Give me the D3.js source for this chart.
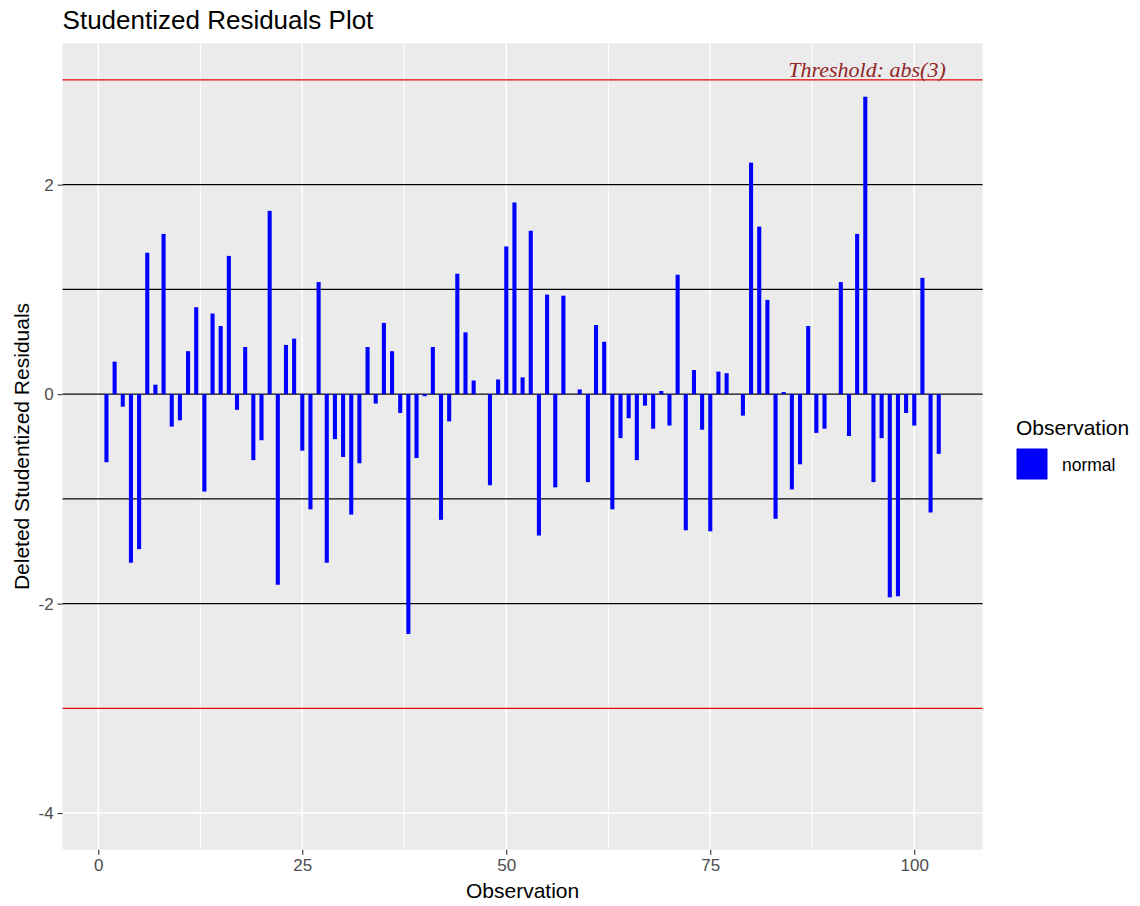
<!doctype html>
<html lang="en">
    <head>
        <meta charset="utf-8">
        <title>Studentized Residuals Plot</title>
        <script src="https://cdn.jsdelivr.net/npm/d3@7"></script>
        <style>
            body { margin: 0; background: #fff; }
            text { font-family: "Liberation Sans", Arial, sans-serif; }
        </style>
    </head>
    <body>
        <script>
            // deleted studentized residuals, observation 1..103
            var residuals = [
                -0.65, 0.31, -0.12, -1.61, -1.48, 1.35, 0.09, 1.53, -0.31, -0.25,
                0.41, 0.83, -0.93, 0.77, 0.65, 1.32, -0.15, 0.45, -0.63, -0.44,
                1.75, -1.82, 0.47, 0.53, -0.54, -1.10, 1.07, -1.61, -0.43, -0.60,
                -1.15, -0.66, 0.45, -0.09, 0.68, 0.41, -0.18, -2.29, -0.61, -0.02,
                0.45, -1.20, -0.26, 1.15, 0.59, 0.13, 0.00, -0.87, 0.14, 1.41,
                1.83, 0.16, 1.56, -1.35, 0.95, -0.89, 0.94, 0.00, 0.045, -0.84,
                0.66, 0.50, -1.10, -0.42, -0.23, -0.63, -0.11, -0.33, 0.03, -0.30,
                1.14, -1.30, 0.23, -0.34, -1.31, 0.215, 0.20, 0.00, -0.205, 2.21,
                1.60, 0.90, -1.19, 0.02, -0.91, -0.67, 0.65, -0.37, -0.33, 0.00,
                1.07, -0.40, 1.53, 2.84, -0.84, -0.42, -1.94, -1.93, -0.18, -0.30,
                1.11, -1.13, -0.57
            ];
            var data = residuals.map((v, i) => ({obs: i + 1, value: v}));

            var xTicks = [0, 25, 50, 75, 100];
            var xMinor = [12.5, 37.5, 62.5, 87.5];
            var yTicks = [-4, -2, 0, 2];
            var yMinor = [-3, -1, 1, 3];
            var refLines = [-2, -1, 0, 1, 2];
            var threshold = [-3, 3];

            var W = 1140, H = 906;
            var panel = {left: 62.6, right: 982.6, top: 43.3, bottom: 849.7};

            var x = d3.scaleLinear()
                      .domain([-4.375, 108.375])
                      .range([panel.left, panel.right]);
            var y = d3.scaleLinear()
                      .domain([-4.35, 3.35])
                      .range([panel.bottom, panel.top]);

            var svg = d3.select("body")
                        .append("svg")
                        .attr("width", W)
                        .attr("height", H);

            svg.append("rect")
               .attr("x", panel.left)
               .attr("y", panel.top)
               .attr("width", panel.right - panel.left)
               .attr("height", panel.bottom - panel.top)
               .attr("fill", "#ebebeb");

            // grid
            var grid = svg.append("g").attr("stroke", "#fff");
            grid.selectAll("line.xminor")
                .data(xMinor).enter().append("line")
                .attr("x1", d => x(d)).attr("x2", d => x(d))
                .attr("y1", panel.top).attr("y2", panel.bottom)
                .attr("stroke-width", 1);
            grid.selectAll("line.xmajor")
                .data(xTicks).enter().append("line")
                .attr("x1", d => x(d)).attr("x2", d => x(d))
                .attr("y1", panel.top).attr("y2", panel.bottom)
                .attr("stroke-width", 1.6);
            grid.selectAll("line.yminor")
                .data(yMinor).enter().append("line")
                .attr("y1", d => y(d)).attr("y2", d => y(d))
                .attr("x1", panel.left).attr("x2", panel.right)
                .attr("stroke-width", 1);
            grid.selectAll("line.ymajor")
                .data(yTicks).enter().append("line")
                .attr("y1", d => y(d)).attr("y2", d => y(d))
                .attr("x1", panel.left).attr("x2", panel.right)
                .attr("stroke-width", 1.6);

            // reference lines
            svg.selectAll("line.ref")
               .data(refLines).enter().append("line")
               .attr("y1", d => y(d)).attr("y2", d => y(d))
               .attr("x1", panel.left).attr("x2", panel.right)
               .attr("stroke", "#000")
               .attr("stroke-width", 1.2);
            svg.selectAll("line.thr")
               .data(threshold).enter().append("line")
               .attr("y1", d => y(d)).attr("y2", d => y(d))
               .attr("x1", panel.left).attr("x2", panel.right)
               .attr("stroke", "#e00000")
               .attr("stroke-width", 1.2);

            // bars
            var bw = x(0.5) - x(0);
            svg.append("g")
               .selectAll("rect")
               .data(data).enter().append("rect")
               .attr("x", d => x(d.obs) - bw / 2)
               .attr("y", d => y(Math.max(0, d.value)))
               .attr("width", bw)
               .attr("height", d => Math.abs(y(d.value) - y(0)))
               .attr("fill", "#0000ff");

            svg.append("text")
               .attr("x", 867)
               .attr("y", y(3) - 3)
               .attr("text-anchor", "middle")
               .style("font-family", "'Liberation Serif', 'Times New Roman', serif")
               .style("font-style", "italic")
               .style("font-size", "22px")
               .attr("fill", "#922626")
               .text("Threshold: abs(3)");

            // axes
            var xAxis = d3.axisBottom(x).tickValues(xTicks).tickSize(5).tickPadding(4);
            var gx = svg.append("g")
                        .attr("transform", "translate(0," + panel.bottom + ")")
                        .call(xAxis);
            var yAxis = d3.axisLeft(y).tickValues(yTicks).tickSize(5).tickPadding(4)
                          .tickFormat(d3.format("d"));
            var gy = svg.append("g")
                        .attr("transform", "translate(" + panel.left + ",0)")
                        .call(yAxis);
            [gx, gy].forEach(g => {
                g.select(".domain").remove();
                g.selectAll(".tick line").attr("stroke", "#333").attr("stroke-width", 1.1);
                g.selectAll(".tick text")
                 .attr("fill", "#4d4d4d")
                 .style("font-size", "17px")
                 .style("font-family", "'Liberation Sans', Arial, sans-serif");
            });
            gy.selectAll(".tick text").text(d => d < 0 ? "-" + Math.abs(d) : d);

            svg.append("text")
               .attr("x", (panel.left + panel.right) / 2)
               .attr("y", 898)
               .attr("text-anchor", "middle")
               .style("font-size", "21px")
               .text("Observation");

            svg.append("text")
               .attr("transform", "translate(29," + ((panel.top + panel.bottom) / 2) + ") rotate(-90)")
               .attr("text-anchor", "middle")
               .style("font-size", "21px")
               .text("Deleted Studentized Residuals");

            svg.append("text")
               .attr("x", panel.left)
               .attr("y", 29)
               .style("font-size", "26px")
               .text("Studentized Residuals Plot");

            // legend
            var legend = svg.append("g").attr("transform", "translate(1016,0)");
            legend.append("text")
                  .attr("x", 0).attr("y", 435)
                  .style("font-size", "21px")
                  .text("Observation");
            legend.append("rect")
                  .attr("x", 0.5).attr("y", 448.5)
                  .attr("width", 31).attr("height", 31)
                  .attr("fill", "#0000ff");
            legend.append("text")
                  .attr("x", 46).attr("y", 471)
                  .style("font-size", "17.5px")
                  .text("normal");
        </script>
    </body>
</html>
